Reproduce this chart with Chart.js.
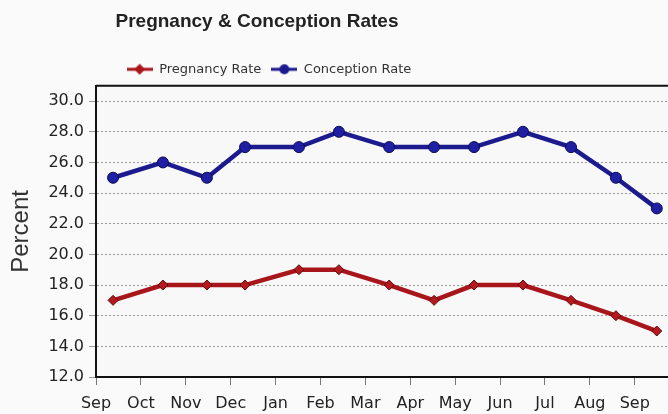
<!DOCTYPE html>
<html>
<head>
<meta charset="utf-8">
<script src="https://cdn.jsdelivr.net/npm/chart.js@4/dist/chart.umd.min.js"></script>
<style>
  html, body { margin: 0; padding: 0; background: #fafafa; }
  #wrap { width: 668px; height: 414px; }
</style>
</head>
<body>
<div id="wrap"><canvas id="rates" width="668" height="414"></canvas></div>
<script>
// month labels on the x axis (tick at each month start)
const monthLabels = ['Sep', 'Oct', 'Nov', 'Dec', 'Jan', 'Feb', 'Mar', 'Apr', 'May', 'Jun', 'Jul', 'Aug', 'Sep'];
// where each reading sits, in months from the first Sep tick
const readingMonths = [0.38, 1.49, 2.47, 3.32, 4.52, 5.41, 6.53, 7.53, 8.42, 9.51, 10.58, 11.58, 12.49];
const pregnancyRate = [17, 18, 18, 18, 19, 19, 18, 17, 18, 18, 17, 16, 15];
const conceptionRate = [25, 26, 25, 27, 27, 28, 27, 27, 27, 28, 27, 25, 23];
const percentTicks = [12, 14, 16, 18, 20, 22, 24, 26, 28, 30];

const RED = '#a8151a';
const BLUE = '#1b1a8e';

const toPoints = vals => vals.map((v, i) => ({ x: readingMonths[i], y: v }));

// little "line + marker" icons for the legend
function legendIcon(color, style) {
    const c = document.createElement('canvas');
    c.width = 26; c.height = 12;
    const g = c.getContext('2d');
    g.strokeStyle = color; g.lineWidth = 3;
    g.beginPath(); g.moveTo(0, 6); g.lineTo(26, 6); g.stroke();
    g.fillStyle = color;
    g.beginPath();
    if (style === 'diamond') {
        g.moveTo(13, 0.5); g.lineTo(18.5, 6); g.lineTo(13, 11.5); g.lineTo(7.5, 6); g.closePath();
    } else {
        g.arc(13, 6, 5, 0, Math.PI * 2);
    }
    g.fill();
    return c;
}
const icons = [legendIcon(RED, 'diamond'), legendIcon(BLUE, 'circle')];

// the original title/legend sit left of centre; shift their boxes
const offCentre = {
    id: 'offCentre',
    afterLayout(chart) {
        chart.titleBlock.left = 0; chart.titleBlock.right = 514;
        chart.legend.left = 0; chart.legend.right = 538;
    },
    beforeDraw(chart) {
        const { ctx, chartArea: a } = chart;
        ctx.save();
        ctx.fillStyle = '#f8f8f8';
        ctx.fillRect(a.left, a.top, a.right - a.left, a.bottom - a.top);
        ctx.restore();
    },
    afterDraw(chart) {
        const { ctx, chartArea: a } = chart;
        ctx.save();
        ctx.strokeStyle = '#111';
        ctx.lineWidth = 2;
        ctx.beginPath(); ctx.moveTo(a.left, a.top); ctx.lineTo(a.right, a.top); ctx.stroke();
        ctx.restore();
    }
};

new Chart(document.getElementById('rates'), {
    type: 'line',
    data: {
        datasets: [
            {
                label: 'Pregnancy Rate',
                data: toPoints(pregnancyRate),
                borderColor: RED,
                backgroundColor: RED,
                borderWidth: 4.5,
                pointStyle: 'rectRot',
                pointRadius: 5,
                pointBackgroundColor: '#b3191e',
                pointBorderColor: '#5e0a0c',
                pointBorderWidth: 1,
                tension: 0,
            },
            {
                label: 'Conception Rate',
                data: toPoints(conceptionRate),
                borderColor: BLUE,
                backgroundColor: BLUE,
                borderWidth: 4.5,
                pointStyle: 'circle',
                pointRadius: 5.5,
                pointBackgroundColor: '#1f1fa3',
                pointBorderColor: '#0b0b55',
                pointBorderWidth: 1,
                tension: 0,
            },
        ],
    },
    options: {
        responsive: false,
        animation: false,
        layout: { autoPadding: false, padding: { left: 4, right: 0, top: 0, bottom: 0 } },
        plugins: {
            title: {
                display: true,
                text: 'Pregnancy & Conception Rates',
                color: '#222',
                font: { family: 'Liberation Sans, Arial, sans-serif', size: 19, weight: 'bold' },
                padding: { top: 10, bottom: 20 },
            },
            legend: {
                display: true,
                labels: {
                    usePointStyle: true,
                    pointStyleWidth: 26,
                    color: '#333',
                    padding: 10,
                    font: { family: 'DejaVu Sans, Verdana, sans-serif', size: 13 },
                    generateLabels: chart =>
                        Chart.defaults.plugins.legend.labels.generateLabels(chart)
                            .map((l, i) => ({ ...l, pointStyle: icons[i] })),
                },
            },
            tooltip: { enabled: false },
        },
        scales: {
            x: {
                type: 'linear',
                min: 0,
                max: 12.74,
                afterBuildTicks: scale => {
                    scale.ticks = monthLabels.map((_, i) => ({ value: i }));
                },
                afterFit: scale => {
                    scale.height = 37;
                    scale.paddingRight = 0;
                    scale.paddingLeft = 0;
                },
                ticks: {
                    autoSkip: false,
                    maxRotation: 0,
                    padding: 9,
                    color: '#222',
                    font: { family: 'DejaVu Sans, Verdana, sans-serif', size: 16 },
                    callback: v => monthLabels[v] ?? '',
                },
                grid: { drawOnChartArea: false, drawTicks: true, tickLength: 8, color: '#777' },
                border: { display: true, color: '#111', width: 2 },
            },
            y: {
                min: 12,
                max: 31,
                afterBuildTicks: scale => {
                    scale.ticks = percentTicks.map(v => ({ value: v }));
                },
                afterFit: scale => { scale.width = 92; },
                ticks: {
                    padding: 5,
                    color: '#222',
                    font: { family: 'DejaVu Sans, Verdana, sans-serif', size: 16 },
                    callback: v => v.toFixed(1),
                },
                grid: { color: '#9a9a9a', tickLength: 7, lineWidth: 1 },
                border: { display: true, color: '#111', width: 2, dash: [2, 2] },
                title: {
                    display: true,
                    text: 'Percent',
                    color: '#333',
                    font: { family: 'Liberation Sans, Arial, sans-serif', size: 24 },
                    padding: { top: 3, bottom: 0 },
                },
            },
        },
    },
    plugins: [offCentre],
});
</script>
</body>
</html>
